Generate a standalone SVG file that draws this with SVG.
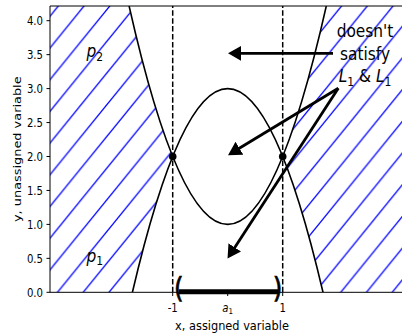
<svg xmlns="http://www.w3.org/2000/svg" width="402" height="333" viewBox="0 0 402 333">
<style>
.t{font-family:"DejaVu Sans",sans-serif;fill:#000}
.tick{font-size:11.5px}
.lab{font-size:12.9px}
.big{font-size:17.5px}
.it{font-style:italic}
.par{font-size:28px;stroke:#000;stroke-width:0.7}
.curve{fill:none;stroke:#000;stroke-width:1.6}
.dash{fill:none;stroke:#000;stroke-width:1.5;stroke-dasharray:5.5 2.4}
.arrow{fill:none;stroke:#000;stroke-width:2.8;marker-end:url(#head)}
.spine{fill:none;stroke:#000;stroke-width:1}
.tk{stroke:#000;stroke-width:1}
.hatch{fill:url(#hatch);stroke:none}
</style>
<defs>
<pattern id="hatch" patternUnits="userSpaceOnUse" x="57.5" y="292.3" width="25.75" height="31.7">
<path d="M-12.875,15.85 L12.875,-15.85 M0,31.7 L25.75,0 M12.875,47.55 L38.625,15.85" stroke="#0000ff" stroke-width="1.3" fill="none"/>
</pattern>
<marker id="head" markerUnits="userSpaceOnUse" markerWidth="16" markerHeight="17" viewBox="0 0 16 17" refX="3" refY="7.5" orient="auto">
<path d="M0,0 L13.3,7.5 L0,15 Z" fill="#000"/>
</marker>
<clipPath id="ax"><rect x="50" y="6" width="352" height="286.3"/></clipPath>
</defs>

<g id="hatch-left"><path class="hatch" d="M172.7,156.5 Q150.88,102.63 129.1,6 L50,6 L50,292.3 L132.4,292.3 Q152.57,206.2 172.7,156.5 Z"/></g>
<g id="hatch-right"><path class="hatch" d="M282.7,156.5 Q304.52,102.63 326.3,6 L402,6 L402,292.3 L323,292.3 Q302.83,206.2 282.7,156.5 Z"/></g>

<g id="curves" clip-path="url(#ax)">
<path id="curve-upper" class="curve" d="M129.1,6 Q227.7,442.8 326.3,6"/>
<path id="curve-lower" class="curve" d="M132.4,292.3 Q227.7,-115.1 323,292.3"/>
<line class="dash" x1="172.7" y1="292.3" x2="172.7" y2="6"/>
<line class="dash" x1="282.7" y1="292.3" x2="282.7" y2="6"/>
</g>

<g id="point-left"><circle cx="172.7" cy="156.5" r="3.8" fill="#000"/></g>
<g id="point-right"><circle cx="282.7" cy="156.5" r="3.8" fill="#000"/></g>

<g id="interval">
<line x1="179" y1="291.8" x2="278" y2="291.8" stroke="#000" stroke-width="5"/>
<text class="t par" text-anchor="middle" transform="translate(178.8,297.5) scale(0.88,1)">(</text>
<text class="t par" text-anchor="middle" transform="translate(277.6,297.5) scale(0.88,1)">)</text>
</g>

<g id="connectors">
<line class="arrow" x1="333" y1="53.3" x2="238.3" y2="53.3"/>
<line class="arrow" x1="338.3" y1="88.3" x2="236.85" y2="149.8"/>
<line class="arrow" x1="338.3" y1="88.3" x2="233.15" y2="249.9"/>
</g>

<g id="label-note">
<text class="t big" text-anchor="middle" transform="translate(365,37.3) scale(0.88,1)">doesn't</text>
<text class="t big" text-anchor="middle" transform="translate(365,59.8) scale(0.88,1)">satisfy</text>
<text class="t big" text-anchor="middle" transform="translate(365,82.3) scale(0.88,1)"><tspan class="it">L</tspan><tspan font-size="12.25" dy="3.4">1</tspan><tspan dy="-3.4"> &amp; </tspan><tspan class="it">L</tspan><tspan font-size="12.25" dy="3.4">1</tspan></text>
</g>

<g id="label-p2"><text class="t big" transform="translate(86.5,57.3) scale(0.88,1)"><tspan class="it">p</tspan><tspan font-size="12.25" dy="3.4">2</tspan></text></g>
<g id="label-p1"><text class="t big" transform="translate(86.5,261.5) scale(0.88,1)"><tspan class="it">p</tspan><tspan font-size="12.25" dy="3.4">1</tspan></text></g>

<g id="axes">
<path class="spine" d="M50,6 L402,6 M50,6 L50,292.3 L402,292.3"/>
<path class="tk" d="M46.5,292.3H50M46.5,258.35H50M46.5,224.4H50M46.5,190.45H50M46.5,156.5H50M46.5,122.55H50M46.5,88.6H50M46.5,54.65H50M46.5,20.7H50M172.7,292.3V296M227.7,292.3V296M282.7,292.3V296"/>
<g text-anchor="end">
<text class="t tick" transform="translate(43,296.5) scale(0.88,1)">0.0</text>
<text class="t tick" transform="translate(43,262.55) scale(0.88,1)">0.5</text>
<text class="t tick" transform="translate(43,228.6) scale(0.88,1)">1.0</text>
<text class="t tick" transform="translate(43,194.65) scale(0.88,1)">1.5</text>
<text class="t tick" transform="translate(43,160.7) scale(0.88,1)">2.0</text>
<text class="t tick" transform="translate(43,126.75) scale(0.88,1)">2.5</text>
<text class="t tick" transform="translate(43,92.8) scale(0.88,1)">3.0</text>
<text class="t tick" transform="translate(43,58.85) scale(0.88,1)">3.5</text>
<text class="t tick" transform="translate(43,24.9) scale(0.88,1)">4.0</text>
</g>
<g text-anchor="middle">
<text class="t tick" transform="translate(172.7,311.5) scale(0.88,1)">-1</text>
<text class="t tick" transform="translate(227.7,311.5) scale(0.88,1)"><tspan class="it">a</tspan><tspan font-size="8.05" dy="2.4">1</tspan></text>
<text class="t tick" transform="translate(282.7,311.5) scale(0.88,1)">1</text>
</g>
<text class="t lab" text-anchor="middle" transform="translate(232,330) scale(0.88,1)">x, assigned variable</text>
<text class="t lab" text-anchor="middle" transform="translate(20.5,149.2) rotate(-90) scale(1,0.88)">y, unassigned variable</text>
</g>
</svg>
